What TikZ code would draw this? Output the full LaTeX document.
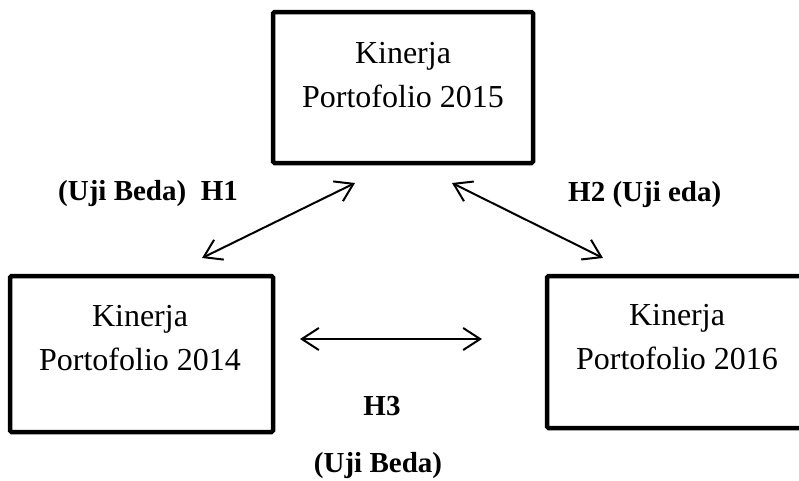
\documentclass[tikz,border=0pt]{standalone}
\usepackage{fontspec}
\setmainfont{Liberation Serif}
\usetikzlibrary{arrows.meta}
\begin{document}
\begin{tikzpicture}[x=1pt,y=-1pt,
  box/.style={draw=black,line width=4.5pt,rounded corners=1.5pt,fill=none},
  boxtext/.style={align=center,inner sep=0pt,font=\fontsize{32}{44}\selectfont,anchor=base},
  lbl/.style={inner sep=0pt,font=\fontsize{29}{34}\selectfont\bfseries,anchor=base},
  arr/.style={line width=2pt,{Straight Barb[length=17pt,width=22pt,line width=2pt]}-{Straight Barb[length=17pt,width=22pt,line width=2pt]}}]
\useasboundingbox (0,0) rectangle (799,480);
% boxes
\draw[box] (273,12) rectangle (533,163);
\draw[box] (10,276) rectangle (273,432);
\draw[box] (547,276) rectangle (812,428);
\node[boxtext] (t2015) at (403,107) {Kinerja\\Portofolio 2015};
\node[boxtext] (t2014) at (140,370) {Kinerja\\Portofolio 2014};
\node[boxtext] (t2016) at (677,369) {Kinerja\\Portofolio 2016};
% arrow end points
\coordinate (a1) at (202,258);
\coordinate (a2) at (355,183);
\coordinate (b1) at (452,183);
\coordinate (b2) at (603,258);
\coordinate (c1) at (300,339);
\coordinate (c2) at (482,339);
\draw[arr] (a1) -- (a2);
\draw[arr] (b1) -- (b2);
\draw[arr] (c1) -- (c2);
% labels
\node[lbl,anchor=base west] (l1) at (58,200) {(Uji Beda)\ \ H1};
\node[lbl,anchor=base west] (l2) at (568,201) {H2 (Uji eda)};
\node[lbl] (l3) at (382,415) {H3};
\node[lbl] (l4) at (378,472) {(Uji Beda)};
\end{tikzpicture}
\end{document}
